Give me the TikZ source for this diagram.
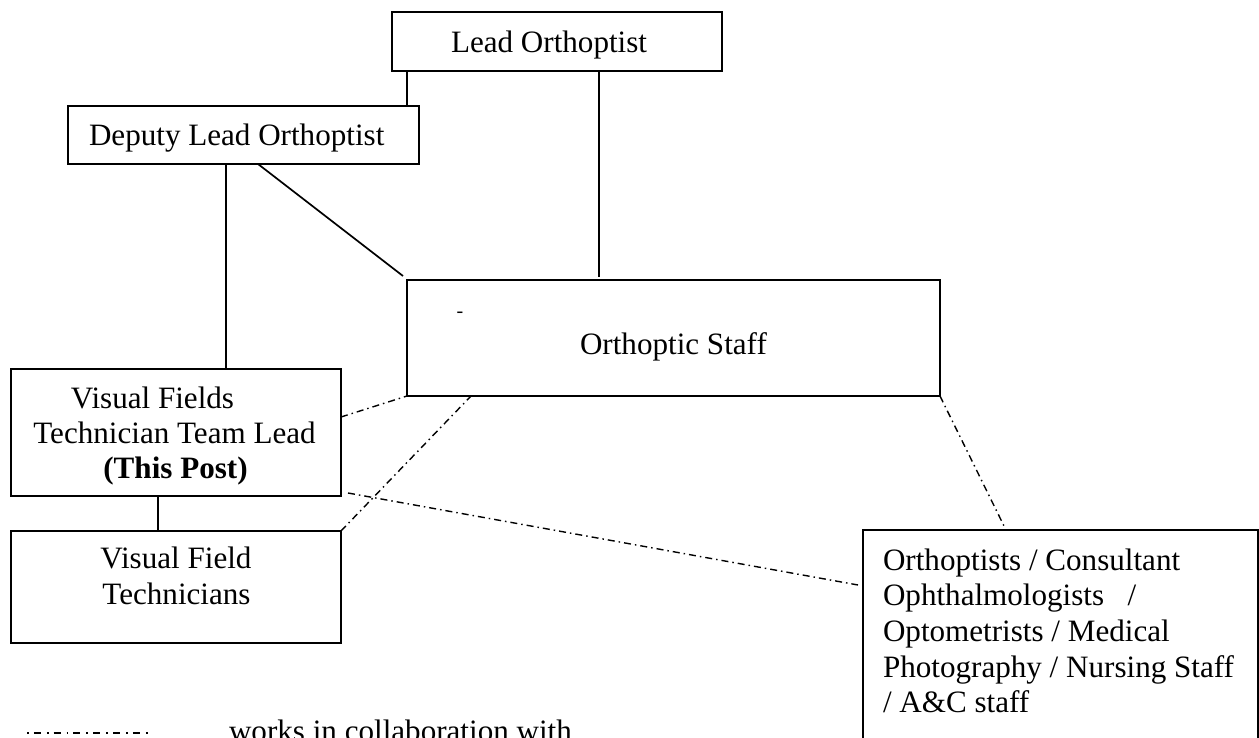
\documentclass[tikz,border=0pt]{standalone}
\usepackage{fontspec}
\setmainfont{Liberation Serif}
\usetikzlibrary{calc}
\tikzset{
  orgbox/.style={draw, line width=2pt, inner sep=0pt, outer sep=0pt},
  txt/.style={anchor=base west, inner sep=0pt, outer sep=0pt, font=\fontsize{31.1pt}{35.5pt}\selectfont},
  ctxt/.style={anchor=base, inner sep=0pt, outer sep=0pt, font=\fontsize{31.1pt}{35.5pt}\selectfont},
  link/.style={line width=1.7pt},
  collab/.style={line width=1.4pt, dash pattern=on 7pt off 4pt on 1.5pt off 4pt},
  legendcollab/.style={line width=1.8pt, dash pattern=on 1.8pt off 5pt on 7pt off 6pt}
}
\begin{document}
\begin{tikzpicture}[x=1pt, y=-1pt]
\useasboundingbox (0,0) rectangle (1259,738);
\clip (0,0) rectangle (1259,738);
\fill[white] (0,0) rectangle (1259,738);

% boxes
\node[orgbox, minimum width=330pt, minimum height=59pt] (lead) at (557,41.5) {};
\node[orgbox, minimum width=351pt, minimum height=58pt] (dep) at (243.5,135) {};
\node[orgbox, minimum width=533pt, minimum height=116pt] (ortho) at (673.5,338) {};
\node[orgbox, minimum width=330pt, minimum height=127pt] (vftl) at (176,432.5) {};
\node[orgbox, minimum width=330pt, minimum height=112pt] (vft) at (176,587) {};
\node[orgbox, minimum width=395pt, minimum height=270pt] (others) at (1060.5,665) {};

% texts
\node[txt] (leadT) at (451,53) {Lead Orthoptist};
\node[txt] (depT) at (89,146) {Deputy Lead Orthoptist};
\node[txt] (orthoT) at (580,354) {Orthoptic Staff};
\node[inner sep=0pt, font=\fontsize{20pt}{20pt}\selectfont] (stray) at (460,315) {-};

\node[ctxt] (vftlA) at (152.5,408) {Visual Fields};
\node[ctxt] (vftlB) at (174.5,443) {Technician Team Lead};
\node[ctxt, font=\fontsize{31.1pt}{35.5pt}\selectfont\bfseries] (vftlC) at (175.5,478) {(This Post)};

\node[ctxt] (vftA) at (176,568) {Visual Field};
\node[ctxt] (vftB) at (176.5,604) {Technicians};

\node[txt] (othA) at (883,570) {Orthoptists / Consultant};
\node[txt] (othB) at (883,605) {Ophthalmologists~~~/};
\node[txt] (othC) at (883,641) {Optometrists / Medical};
\node[txt] (othD) at (883,677) {Photography / Nursing Staff};
\node[txt] (othE) at (883,712) {/ A\&C staff};

% solid reporting lines
\draw[link] ($(lead.south west)+(15,0)$) -- ($(dep.north east)+(-12,0)$);
\draw[link] ($(lead.south west)+(207,0)$) -- ($(ortho.north west)+(192,-3)$);
\draw[link] ($(dep.south west)+(190,0)$) -- ($(ortho.north west)+(-4,-4)$);
\draw[link] ($(dep.south west)+(158,0)$) -- ($(vftl.north west)+(215,0)$);
\draw[link] ($(vftl.south west)+(147,0)$) -- ($(vft.north west)+(147,0)$);

% collaboration lines
\draw[collab] ($(vftl.north east)+(0,48)$) -- (ortho.south west);
\draw[collab] (vft.north east) -- ($(ortho.south west)+(64,0)$);
\draw[collab] ($(vftl.south east)+(7,-3)$) -- ($(others.north west)+(-5,55)$);
\draw[collab] (ortho.south east) -- ($(others.north west)+(142,-2)$);

% legend
\coordinate (legA) at (27,733);
\coordinate (legB) at (149,733);
\draw[legendcollab] (legA) -- (legB);
\node[txt] (legT) at (229,741) {works in collaboration with};
\end{tikzpicture}
\end{document}
